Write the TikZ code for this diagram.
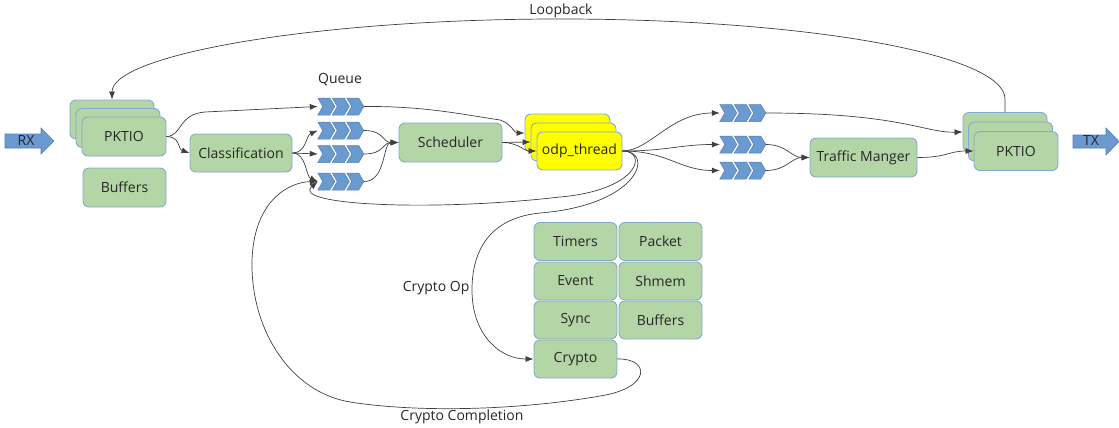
\documentclass[tikz,border=0pt]{standalone}
\usepackage{fontspec}
\setmainfont{Open Sans}
\usetikzlibrary{arrows.meta}

\definecolor{boxgreen}{HTML}{B4D6A6}
\definecolor{boxedge}{HTML}{86A9CF}
\definecolor{thrfill}{HTML}{FFFF00}
\definecolor{qfill}{HTML}{6A9AD0}
\definecolor{qedge}{HTML}{557FB5}
\definecolor{linegray}{HTML}{404040}
\definecolor{txt}{HTML}{262626}

% three chevrons filling a queue slot
\newcommand\chevrons[1]{%
  \foreach \k in {0,1,2}{%
    \filldraw[qicon] ([xshift=\k*14.5pt]#1.west) ++(0,-8.5) -- ++(12,0) -- ++(5,8.5)
      -- ++(-5,8.5) -- ++(-12,0) -- ++(5,-8.5) -- cycle;}}

\begin{document}
\begin{tikzpicture}[x=1pt,y=-1pt,
  every node/.style={font=\fontsize{14}{16}\selectfont, text=txt},
  box/.style={draw=boxedge, fill=boxgreen, line width=0.9pt, rounded corners=6pt,
              minimum width=84pt, minimum height=39pt, inner sep=0pt},
  thread/.style={box, fill=thrfill, minimum width=85pt, minimum height=38pt},
  cell/.style={box, minimum width=83pt, minimum height=38pt},
  qslot/.style={minimum width=46pt, minimum height=17pt, inner sep=0pt},
  qicon/.style={fill=qfill, draw=qedge, line width=0.5pt},
  bigarrow/.style={fill=qfill, draw=qedge, line width=0.6pt},
  conn/.style={draw=linegray, line width=0.7pt, -{Latex[length=8pt,width=6pt]}}]

\useasboundingbox (0,0) rectangle (1119,428);

% ---- RX / TX block arrows
\filldraw[bigarrow] (5,134) -- (41,134) -- (41,128) -- (54,141) -- (41,154) -- (41,148) -- (5,148) -- cycle;
\node (rx) at (26,141) {RX};
\filldraw[bigarrow] (1073,135) -- (1106,135) -- (1106,128) -- (1119,141.5) -- (1106,155) -- (1106,148) -- (1073,148) -- cycle;
\node (tx) at (1091,141) {TX};

% ---- ingress packet I/O
\node[box] (pkLB) at (112,119.5) {};
\node[box] (pkLM) at (118,128) {};
\node[box] (pkL) at (124,136.5) {PKTIO};
\node[box, minimum width=83pt] (bufL) at (124.5,187.5) {Buffers};

\node[box, minimum width=102pt, minimum height=38pt] (cls) at (241,153) {Classification};

% ---- queues
\node (lq) at (340,80) {Queue};
\node[qslot] (q1) at (341,106.5) {};
\node[qslot] (q2) at (341,130.5) {};
\node[qslot] (q3) at (341,154) {};
\node[qslot] (q4) at (341,181.5) {};
\node[qslot] (q5) at (743,113) {};
\node[qslot] (q6) at (743,144.5) {};
\node[qslot] (q7) at (743,170.5) {};
\chevrons{q1}\chevrons{q2}\chevrons{q3}\chevrons{q4}
\chevrons{q5}\chevrons{q6}\chevrons{q7}

\node[box, minimum width=103pt] (sch) at (450.5,142.5) {Scheduler};

% ---- worker threads
\node[thread] (odpB) at (567.5,133) {};
\node[thread] (odpM) at (573.5,142) {};
\node[thread] (odp) at (579.5,151) {odp\_thread};

\node[box, minimum width=107pt] (tm) at (863.5,157.5) {Traffic Manger};

% ---- egress packet I/O
\node[box] (pkRB) at (1005,132) {};
\node[box] (pkRM) at (1010.5,141.5) {};
\node[box] (pkR) at (1016,151) {PKTIO};

% ---- service blocks
\node[cell] (tim) at (575.5,241.5) {Timers};
\node[cell] (pkt) at (660.5,241.5) {Packet};
\node[cell] (evt) at (575.5,281) {Event};
\node[cell] (shm) at (660.5,281) {Shmem};
\node[cell] (syn) at (575.5,320) {Sync};
\node[cell] (bufS) at (660.5,320) {Buffers};
\node[cell] (cry) at (575.5,359) {Crypto};

% ---- labels
\node (lloop) at (561,11) {Loopback};
\node[anchor=east] (lop) at (473,288) {Crypto Op};
\node (lcc) at (462,417) {Crypto Completion};

% ---- ingress path
\draw[conn] (pkL.east) .. controls (182,136.5) and (178,114) .. (205,112) -- (q1.west);
\draw[conn] (pkL.east) .. controls +(14,0) and +(-12,-4) .. (cls.west);
\draw[conn] (cls.east) .. controls +(14,0) and +(-12,5) .. (q2.west);
\draw[conn] (cls.east) -- (q3.west);
\draw[conn] (cls.east) .. controls +(14,0) and +(-12,-5) .. (q4.west);

\draw[conn] (q2.east) .. controls +(20,0) and +(-16,0) .. (sch.west);
\draw[conn] (q3.east) .. controls +(20,0) and +(-16,0) .. (sch.west);
\draw[conn] (q4.east) .. controls +(22,0) and +(-16,0) .. (sch.west);

\draw[conn] (q1.east) .. controls (423,106) and (460,114) .. (500,120)
            .. controls (512,124) and (514,133) .. (odpB.west);
\draw[conn] (sch.east) -- (odpM.west);
\draw[conn] (sch.east) .. controls +(15,0) and +(-12,0) .. (odp.west);

% ---- egress path
\draw[conn] (odp.east) .. controls (650,151) and (670,113) .. (q5.west);
\draw[conn] (odp.east) .. controls +(45,0) and +(-40,0) .. (q6.west);
\draw[conn] (odp.east) .. controls +(45,0) and +(-40,0) .. (q7.west);
\draw[conn] (q6.east) .. controls +(20,0) and +(-18,0) .. (tm.west);
\draw[conn] (q7.east) .. controls +(20,0) and +(-18,0) .. (tm.west);
\draw[conn] (q5.east) .. controls (900,113) and (925,133) .. (pkRB.west);
\draw[conn] (tm.east) .. controls +(30,0) and +(-25,0) .. (pkR.west);

% ---- loopback over the top
\draw[conn] (pkRB.north) -- ++(0,-13) .. controls +(0,-45) and (805,19) .. (560,19)
            .. controls (313,19) and (112,55) .. (pkLB.north);

% ---- re-enqueue from the thread
\draw[conn] (odp.east) .. controls (648,151) and (640,190) .. (560,197)
            .. controls (430,212) and (290,205) .. (q4.west);

% ---- crypto request and completion
\draw[conn] (odp.east) .. controls (655,151) and (640,205) .. (540,213)
            .. controls (490,218) and (472,250) .. (472,290)
            .. controls (472,335) and (500,359) .. (cry.west);
\draw[conn] (cry.east) .. controls (650,358) and (652,388) .. (600,396)
            .. controls (520,410) and (420,413) .. (350,402)
            .. controls (290,392) and (252,330) .. (252,265)
            .. controls (252,200) and (290,182) .. (q4.west);
\end{tikzpicture}
\end{document}
